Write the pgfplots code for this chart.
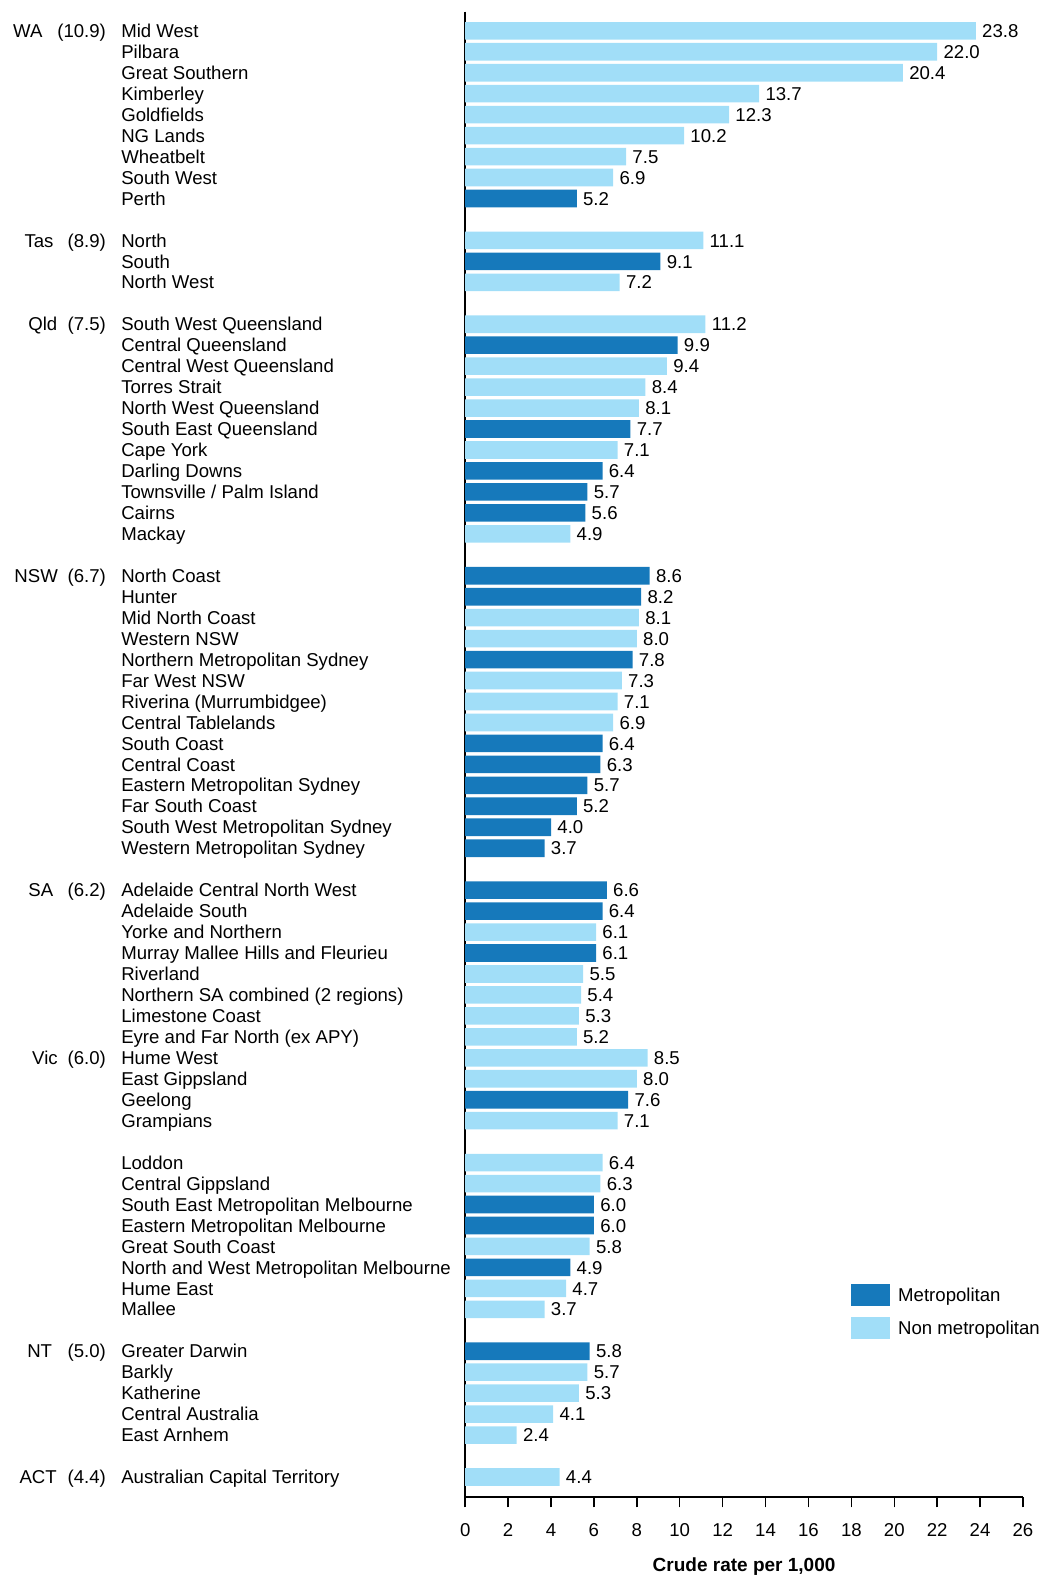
\documentclass[border=0pt]{standalone}
\usepackage{pgfplots}
\pgfplotsset{compat=1.18}
\usepackage{pgfplotstable}
\usepackage{fontspec}
\setmainfont{Liberation Sans}
\definecolor{metro}{HTML}{1679BB}
\definecolor{nonmetro}{HTML}{A1DEF8}
\newcommand\lbl{\fontsize{9.3pt}{11pt}\selectfont}

% row = position from the top, val = crude rate per 1,000
\pgfplotstableread{
row val
8 5.2
11 9.1
15 9.9
19 7.7
21 6.4
22 5.7
23 5.6
26 8.6
27 8.2
30 7.8
34 6.4
35 6.3
36 5.7
37 5.2
38 4.0
39 3.7
41 6.6
42 6.4
44 6.1
51 7.6
56 6.0
57 6.0
59 4.9
63 5.8
}\metro

\pgfplotstableread{
row val
0 23.8
1 22.0
2 20.4
3 13.7
4 12.3
5 10.2
6 7.5
7 6.9
10 11.1
12 7.2
14 11.2
16 9.4
17 8.4
18 8.1
20 7.1
24 4.9
28 8.1
29 8.0
31 7.3
32 7.1
33 6.9
43 6.1
45 5.5
46 5.4
47 5.3
48 5.2
49 8.5
50 8.0
52 7.1
54 6.4
55 6.3
58 5.8
60 4.7
61 3.7
64 5.7
65 5.3
66 4.1
67 2.4
69 4.4
}\nonmetro

\begin{document}
\begin{tikzpicture}
\useasboundingbox (0,0) rectangle (519.5pt,-788pt);
\begin{axis}[
  at={(232.6pt,-5.85pt)}, anchor=north west,
  scale only axis, width=278.9pt, height=742.8pt,
  xmin=0, xmax=26, ymin=-0.91, ymax=69.97, y dir=reverse,
  clip=false,
  axis x line*=bottom, axis y line*=left,
  axis line style={line width=1pt, black, -},
  /pgf/number format/assume math mode=true,
  xtick={0,2,...,26},
  xtick style={black, line width=0.75pt},
  tick align=outside, major tick length=5pt,
  xticklabel style={font=\lbl, inner sep=0pt, text height=6.66pt, text depth=0pt, anchor=north, yshift=-7.5pt},
  ytick={0,...,69},
  ytick style={draw=none},
  yticklabels={Mid West, Pilbara, Great Southern, Kimberley, Goldfields, NG Lands, Wheatbelt, South West, Perth, {},
    North, South, North West, {},
    South West Queensland, Central Queensland, Central West Queensland, Torres Strait, North West Queensland, South East Queensland, Cape York, Darling Downs, Townsville / Palm Island, Cairns, Mackay, {},
    North Coast, Hunter, Mid North Coast, Western NSW, Northern Metropolitan Sydney, Far West NSW, Riverina (Murrumbidgee), Central Tablelands, South Coast, Central Coast, Eastern Metropolitan Sydney, Far South Coast, South West Metropolitan Sydney, Western Metropolitan Sydney, {},
    Adelaide Central North West, Adelaide South, Yorke and Northern, Murray Mallee Hills and Fleurieu, Riverland, Northern SA combined (2 regions), Limestone Coast, Eyre and Far North (ex APY),
    Hume West, East Gippsland, Geelong, Grampians, {},
    Loddon, Central Gippsland, South East Metropolitan Melbourne, Eastern Metropolitan Melbourne, Great South Coast, North and West Metropolitan Melbourne, Hume East, Mallee, {},
    Greater Darwin, Barkly, Katherine, Central Australia, East Arnhem, {},
    Australian Capital Territory},
  yticklabel style={font=\lbl, inner sep=0pt, text height=6.66pt, text depth=0pt, anchor=west, xshift=-167.15pt},
  xlabel={Crude rate per 1,000},
  xlabel style={font=\bfseries\fontsize{9.5pt}{11pt}\selectfont, at={(axis description cs:0.5,0)}, anchor=center, yshift=-34.7pt},
  nodes near coords={\pgfmathprintnumber[fixed,fixed zerofill,precision=1]{\pgfplotspointmeta}},
  every node near coord/.append style={anchor=west, inner sep=0pt, xshift=3pt, text height=6.66pt, text depth=0pt, font=\lbl, text=black},
  legend style={at={(0.6917,0.1442)}, anchor=north west, draw=none, fill=none, inner sep=0pt,
    row sep=5.6pt, font=\lbl, cells={anchor=west},
    nodes={inner sep=0pt, text height=6.66pt, text depth=0pt},
    /tikz/every odd column/.style={column sep=4pt}},
]
\addplot[xbar, bar width=8.8pt, bar shift=0pt, fill=metro, draw=none, point meta=x, forget plot]
  table[x=val, y=row]{\metro};
\addplot[xbar, bar width=8.8pt, bar shift=0pt, fill=nonmetro, draw=none, point meta=x, forget plot]
  table[x=val, y=row]{\nonmetro};

\addlegendimage{legend image code/.code={\fill[metro] (0pt,-5.25pt) rectangle (19pt,5.25pt);}}
\addlegendentry{Metropolitan}
\addlegendimage{legend image code/.code={\fill[nonmetro] (0pt,-5.25pt) rectangle (19pt,5.25pt);}}
\addlegendentry{Non metropolitan}

\begin{scope}[every node/.style={font=\lbl, inner sep=0pt, text height=6.66pt, text depth=0pt}]
\node[anchor=west] at (axis cs:-21.09,0) {WA};
\node[anchor=east] at (axis cs:-16.727,0) {(10.9)};
\node[anchor=west] at (axis cs:-20.56,10) {Tas};
\node[anchor=east] at (axis cs:-16.727,10) {(8.9)};
\node[anchor=west] at (axis cs:-20.38,14) {Qld};
\node[anchor=east] at (axis cs:-16.727,14) {(7.5)};
\node[anchor=west] at (axis cs:-21.03,26) {NSW};
\node[anchor=east] at (axis cs:-16.727,26) {(6.7)};
\node[anchor=west] at (axis cs:-20.38,41) {SA};
\node[anchor=east] at (axis cs:-16.727,41) {(6.2)};
\node[anchor=west] at (axis cs:-20.20,49) {Vic};
\node[anchor=east] at (axis cs:-16.727,49) {(6.0)};
\node[anchor=west] at (axis cs:-20.43,63) {NT};
\node[anchor=east] at (axis cs:-16.727,63) {(5.0)};
\node[anchor=west] at (axis cs:-20.79,69) {ACT};
\node[anchor=east] at (axis cs:-16.727,69) {(4.4)};
\end{scope}
\end{axis}
\end{tikzpicture}
\end{document}
